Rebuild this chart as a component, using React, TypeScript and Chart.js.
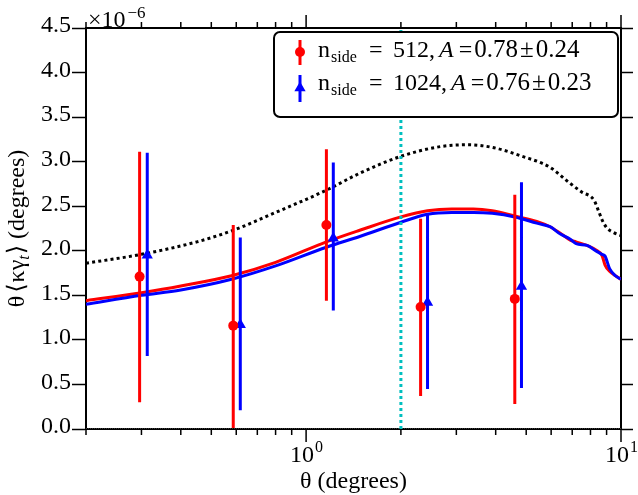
import React, { useEffect, useRef } from 'react';
import { Chart, registerables } from 'chart.js';

Chart.register(...registerables);

const FONT = "'Liberation Serif', 'Times New Roman', 'DejaVu Serif', serif";

// ---- data (y values in units of 1e-6) ----
const RED_THETA = [0.296, 0.587, 1.16, 2.31, 4.6];
const RED_VALUE = [1.71, 1.16, 2.29, 1.37, 1.46];
const RED_LOW = [0.3, 0.01, 1.44, 0.37, 0.28];
const RED_HIGH = [3.11, 2.29, 3.14, 2.36, 2.63];

const BLUE_THETA = [0.313, 0.618, 1.22, 2.43, 4.83];
const BLUE_VALUE = [1.95, 1.17, 2.14, 1.42, 1.6];
const BLUE_LOW = [0.82, 0.21, 1.33, 0.45, 0.46];
const BLUE_HIGH = [3.1, 2.15, 2.99, 2.42, 2.77];

const CURVE_THETA = [0.2, 0.3, 0.4, 0.58, 0.8, 1.16, 1.48, 2.0, 2.43, 2.9, 3.4, 3.9, 4.6, 5.4, 5.95, 6.4, 6.9, 7.2, 7.8, 8.4, 8.7, 8.9, 9.2, 9.6, 10];
const RED_CURVE = [1.44, 1.53, 1.605, 1.72, 1.87, 2.1, 2.23, 2.38, 2.45, 2.47, 2.47, 2.45, 2.39, 2.33, 2.27, 2.2, 2.12, 2.1, 2.06, 2.0, 1.95, 1.84, 1.77, 1.72, 1.68];
const BLUE_CURVE = [1.4, 1.5, 1.56, 1.68, 1.83, 2.04, 2.16, 2.32, 2.41, 2.43, 2.43, 2.42, 2.38, 2.31, 2.27, 2.19, 2.13, 2.08, 2.06, 1.99, 1.96, 1.94, 1.8, 1.72, 1.68];

const THEORY_THETA = [0.2, 0.3, 0.45, 0.587, 0.8, 1.16, 1.48, 2.0, 2.68, 3.27, 3.9, 4.86, 5.93, 6.87, 7.5, 8.2, 8.5, 8.7, 9.0, 9.4, 10];
const THEORY_CURVE = [1.86, 1.96, 2.1, 2.23, 2.43, 2.68, 2.87, 3.06, 3.17, 3.19, 3.16, 3.06, 2.94, 2.76, 2.66, 2.57, 2.44, 2.35, 2.26, 2.21, 2.17];

const CUT_THETA = 2.0;

// ---- axes ----
const X_MIN = 0.2;
const X_MAX = 10;
const Y_MIN = 0;
const Y_MAX = 4.5;
const Y_STEP = 0.5;
const X_MAJOR_TICKS = [1, 10];
const X_MINOR_TICKS = [0.2, 0.3, 0.4, 0.5, 0.6, 0.7, 0.8, 0.9, 2, 3, 4, 5, 6, 7, 8, 9];
const X_TICK_BASES = ['10', '10'];
const X_TICK_EXPS = ['0', '1'];
const Y_MULT_BASE = '×10';
const Y_MULT_EXP = '−6';
const X_TITLE = 'θ (degrees)';

// ---- legend ----
const LEGEND_NSIDE = ['512', '1024'];
const LEGEND_A = ['0.78', '0.76'];
const LEGEND_ERR = ['0.24', '0.23'];

const pts = (xs: number[], ys: number[]) => xs.map((x, i) => ({ x, y: ys[i] }));
const bars = (xs: number[], lo: number[], hi: number[]) =>
  xs.flatMap((x, i) => [{ x, y: lo[i] }, { x, y: hi[i] }, { x, y: null as any }]);

const decor = {
  id: 'decor',
  afterDraw(chart: any) {
    const { ctx, chartArea: ca, scales } = chart;
    const xs = scales.x;
    ctx.save();
    // x ticks top & bottom
    ctx.strokeStyle = '#000';
    ctx.lineWidth = 1.5;
    const all: [number, boolean][] = [
      ...X_MAJOR_TICKS.map((v) => [v, true] as [number, boolean]),
      ...X_MINOR_TICKS.map((v) => [v, false] as [number, boolean]),
    ];
    for (const [v, major] of all) {
      const px = xs.getPixelForValue(v);
      const len = major ? 13 : 6;
      ctx.beginPath();
      ctx.moveTo(px, ca.bottom);
      ctx.lineTo(px, ca.bottom + len);
      ctx.moveTo(px, ca.top);
      ctx.lineTo(px, ca.top - len);
      ctx.stroke();
    }
    ctx.fillStyle = '#000';
    ctx.textBaseline = 'alphabetic';
    ctx.textAlign = 'left';
    // x tick labels
    X_MAJOR_TICKS.forEach((v, i) => {
      const px = xs.getPixelForValue(v);
      ctx.font = `24px ${FONT}`;
      const w1 = ctx.measureText(X_TICK_BASES[i]).width;
      ctx.font = `16px ${FONT}`;
      const w2 = ctx.measureText(X_TICK_EXPS[i]).width;
      const start = px - (w1 + w2) / 2;
      ctx.font = `24px ${FONT}`;
      ctx.fillText(X_TICK_BASES[i], start, 462);
      ctx.font = `16px ${FONT}`;
      ctx.fillText(X_TICK_EXPS[i], start + w1 + 1, 452);
    });
    // x title
    ctx.font = `24px ${FONT}`;
    ctx.textAlign = 'center';
    ctx.fillText(X_TITLE, (ca.left + ca.right) / 2, 488);
    ctx.textAlign = 'left';
    // multiplier
    ctx.font = `24px ${FONT}`;
    ctx.fillText(Y_MULT_BASE, 88, 27);
    const wm = ctx.measureText(Y_MULT_BASE).width;
    ctx.font = `17px ${FONT}`;
    ctx.fillText(Y_MULT_EXP, 88 + wm + 2, 18);

    // y title (rotated), centred on the plot area
    const parts: [string, number, number, boolean, number][] = [
      ['θ', 24, 0, false, 3],
      ['⟨', 24, 0, false, 1],
      ['κ', 24, 0, false, 0],
      ['γ', 24, 0, false, 0],
      ['t', 16, 5, true, 1],
      ['⟩', 24, 0, false, 0],
      [' (degrees)', 24, 0, false, 0],
    ];
    let total = 0;
    for (const p of parts) {
      ctx.font = `${p[3] ? 'italic ' : ''}${p[1]}px ${FONT}`;
      total += ctx.measureText(p[0]).width + p[4];
    }
    ctx.save();
    ctx.translate(24, (ca.top + ca.bottom) / 2 + total / 2);
    ctx.rotate(-Math.PI / 2);
    let cx = 0;
    for (const p of parts) {
      ctx.font = `${p[3] ? 'italic ' : ''}${p[1]}px ${FONT}`;
      ctx.fillText(p[0], cx, p[2]);
      cx += ctx.measureText(p[0]).width + p[4];
    }
    ctx.restore();

    // legend
    const lx = 274, ly = 32, lw = 344, lh = 85;
    ctx.beginPath();
    ctx.roundRect(lx, ly, lw, lh, 6);
    ctx.fillStyle = '#fff';
    ctx.fill();
    ctx.lineWidth = 2;
    ctx.strokeStyle = '#000';
    ctx.stroke();

    const rows = [
      { base: 57, color: '#ff0000', barTop: 40, barBot: 65, my: 52, tri: false, aX: 439 },
      { base: 90, color: '#0000ff', barTop: 75, barBot: 102, my: 88, tri: true, aX: 451 },
    ];
    rows.forEach((r, i) => {
      ctx.strokeStyle = r.color;
      ctx.fillStyle = r.color;
      ctx.lineWidth = 3;
      ctx.beginPath();
      ctx.moveTo(300, r.barTop);
      ctx.lineTo(300, r.barBot);
      ctx.stroke();
      ctx.beginPath();
      if (r.tri) {
        const s = 6.5;
        ctx.moveTo(300, r.my - s);
        ctx.lineTo(300 + s * 0.87, r.my + s * 0.5);
        ctx.lineTo(300 - s * 0.87, r.my + s * 0.5);
        ctx.closePath();
      } else {
        ctx.arc(300, r.my, 5, 0, Math.PI * 2);
      }
      ctx.fill();
      ctx.fillStyle = '#000';
      ctx.font = `24px ${FONT}`;
      ctx.fillText('n', 318, r.base);
      ctx.font = `16px ${FONT}`;
      ctx.fillText('side', 331, r.base + 5);
      ctx.font = `24px ${FONT}`;
      ctx.fillText('=', 369, r.base);
      ctx.fillText(LEGEND_NSIDE[i] + ',', 393, r.base);
      ctx.font = `italic 24px ${FONT}`;
      ctx.fillText('A', r.aX, r.base);
      let x = r.aX + ctx.measureText('A').width + 5;
      ctx.font = `24px ${FONT}`;
      ctx.fillText('=', x, r.base);
      x += ctx.measureText('=').width + 2;
      ctx.font = `25px ${FONT}`;
      ctx.fillText(LEGEND_A[i], x, r.base);
      x += ctx.measureText(LEGEND_A[i]).width + 2;
      ctx.fillText('±', x, r.base);
      x += ctx.measureText('±').width + 2;
      ctx.fillText(LEGEND_ERR[i], x, r.base);
    });
    ctx.restore();
  },
};

export default function App() {
  const ref = useRef<HTMLCanvasElement | null>(null);
  useEffect(() => {
    document.body.style.margin = '0';
    const canvas = ref.current!;
    const chart = new Chart(canvas, {
      type: 'line',
      data: {
        datasets: [
          {
            label: 'red points',
            data: pts(RED_THETA, RED_VALUE),
            showLine: false,
            pointStyle: 'circle',
            pointRadius: 5,
            pointBackgroundColor: '#ff0000',
            pointBorderColor: '#ff0000',
            pointBorderWidth: 0,
            order: 0,
          },
          {
            label: 'blue points',
            data: pts(BLUE_THETA, BLUE_VALUE),
            showLine: false,
            pointStyle: 'triangle',
            pointRadius: 6.5,
            pointBackgroundColor: '#0000ff',
            pointBorderColor: '#0000ff',
            pointBorderWidth: 0,
            order: 1,
          },
          {
            label: 'red errors',
            data: bars(RED_THETA, RED_LOW, RED_HIGH),
            borderColor: '#ff0000',
            borderWidth: 3,
            pointRadius: 0,
            spanGaps: false,
            borderCapStyle: 'butt',
            order: 2,
          },
          {
            label: 'blue errors',
            data: bars(BLUE_THETA, BLUE_LOW, BLUE_HIGH),
            borderColor: '#0000ff',
            borderWidth: 3,
            pointRadius: 0,
            spanGaps: false,
            borderCapStyle: 'butt',
            order: 3,
          },
          {
            label: 'cut',
            data: [
              { x: CUT_THETA, y: Y_MIN },
              { x: CUT_THETA, y: Y_MAX },
            ],
            borderColor: '#00bfbf',
            borderWidth: 3,
            borderDash: [3, 3],
            pointRadius: 0,
            order: 4,
          },
          {
            label: 'blue curve',
            data: pts(CURVE_THETA, BLUE_CURVE),
            borderColor: '#0000ff',
            borderWidth: 3,
            pointRadius: 0,
            cubicInterpolationMode: 'monotone',
            order: 5,
          },
          {
            label: 'red curve',
            data: pts(CURVE_THETA, RED_CURVE),
            borderColor: '#ff0000',
            borderWidth: 3,
            pointRadius: 0,
            cubicInterpolationMode: 'monotone',
            order: 6,
          },
          {
            label: 'theory',
            data: pts(THEORY_THETA, THEORY_CURVE),
            borderColor: '#000000',
            borderWidth: 3,
            borderDash: [3, 3.2],
            pointRadius: 0,
            cubicInterpolationMode: 'monotone',
            order: 7,
          },
          {
            label: 'zero',
            data: [
              { x: X_MIN, y: 0 },
              { x: X_MAX, y: 0 },
            ],
            borderColor: '#777777',
            borderWidth: 1,
            borderDash: [1, 1],
            pointRadius: 0,
            order: 8,
          },
        ],
      },
      options: {
        animation: false,
        responsive: false,
        events: [],
        layout: { padding: 0 },
        plugins: {
          legend: { display: false },
          tooltip: { enabled: false },
        },
        scales: {
          x: {
            type: 'logarithmic',
            position: 'bottom',
            min: X_MIN,
            max: X_MAX,
            ticks: { display: false },
            grid: { display: false },
            border: { display: true, color: '#000', width: 2 },
            afterFit: (s: any) => {
              s.height = 66;
            },
          },
          x2: {
            type: 'logarithmic',
            position: 'top',
            min: X_MIN,
            max: X_MAX,
            ticks: { display: false },
            grid: { display: false },
            border: { display: true, color: '#000', width: 2 },
            afterFit: (s: any) => {
              s.height = 28;
            },
          },
          y: {
            type: 'linear',
            position: 'left',
            min: Y_MIN,
            max: Y_MAX,
            ticks: {
              stepSize: Y_STEP,
              color: '#000',
              padding: 1,
              labelOffset: -2,
              font: { family: FONT, size: 24 },
              callback: (v: any) => Number(v).toFixed(1),
            },
            grid: {
              display: true,
              drawOnChartArea: false,
              drawTicks: true,
              tickLength: 14,
              tickColor: '#000',
              tickWidth: 1.5,
            },
            border: { display: true, color: '#000', width: 2 },
            afterFit: (s: any) => {
              s.width = 86;
            },
          },
          y2: {
            type: 'linear',
            position: 'right',
            min: Y_MIN,
            max: Y_MAX,
            ticks: { display: false, stepSize: Y_STEP },
            grid: {
              display: true,
              drawOnChartArea: false,
              drawTicks: true,
              tickLength: 12,
              tickColor: '#000',
              tickWidth: 1.5,
            },
            border: { display: true, color: '#000', width: 2 },
            afterFit: (s: any) => {
              s.width = 17;
            },
          },
        },
      },
      plugins: [decor],
    } as any);
    return () => chart.destroy();
  }, []);
  return (
    <canvas
      ref={ref}
      width={638}
      height={495}
      style={{ display: 'block', position: 'absolute', left: 0, top: 0, width: 638, height: 495 }}
    />
  );
}
